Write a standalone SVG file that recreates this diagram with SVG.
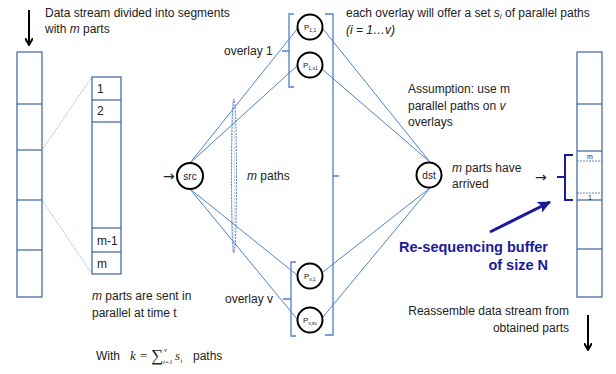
<svg xmlns="http://www.w3.org/2000/svg" width="616" height="374" viewBox="0 0 616 374">
<defs>
<marker id="blk" markerWidth="8" markerHeight="8" refX="6" refY="4" orient="auto" markerUnits="userSpaceOnUse"><path d="M0,0 L7,4 L0,8" fill="none" stroke="#000" stroke-width="2"/></marker>
<marker id="navy" markerWidth="14" markerHeight="12" refX="12" refY="6" orient="auto" markerUnits="userSpaceOnUse"><path d="M0,0 L13,6 L0,12 L3,6 Z" fill="#1a1a9a"/></marker>
<style>
text{font-family:"Liberation Sans",Arial,sans-serif;font-size:12px;fill:#222}
.it{font-style:italic}
.col{fill:#fff;stroke:#4a6ca5;stroke-width:1.3}
.seg{stroke:#4a6ca5;stroke-width:1.3}
.ln{stroke:#4f81c9;stroke-width:1;fill:none}
.br{stroke:#4f81c9;stroke-width:1.3;fill:none}
.nd{fill:#fff;stroke:#000;stroke-width:2}
.pl{font-size:8px}
.ps{font-size:5px}
.nl{font-size:10px}
.tiny{font-size:7px}
.arr{font-family:"DejaVu Sans",sans-serif;font-size:14px}
.nv{fill:#1a1a9a;font-weight:bold;font-size:14.5px}
.mi{font-family:"Liberation Serif","Times New Roman",serif;font-style:italic;font-size:13px}
.ms{font-family:"Liberation Serif","Times New Roman",serif;font-size:6.5px}
.msi{font-family:"Liberation Serif","Times New Roman",serif;font-style:italic;font-size:6.5px}
.sig{font-family:"Liberation Serif","Times New Roman",serif;font-size:17px}
.eq{font-family:"Liberation Serif","Times New Roman",serif;font-size:13px}
</style>
</defs>

<!-- top texts -->
<text x="45" y="17">Data stream divided into segments</text>
<text x="45" y="33">with <tspan class="it">m</tspan> parts</text>
<line x1="29" y1="10" x2="29" y2="44" stroke="#000" stroke-width="2" marker-end="url(#blk)"/>

<!-- left column -->
<g id="leftstream">
<rect class="col" x="17" y="52" width="25" height="245"/>
<line class="seg" x1="17" y1="104" x2="42" y2="104"/>
<line class="seg" x1="17" y1="150" x2="42" y2="150"/>
<line class="seg" x1="17" y1="200" x2="42" y2="200"/>
<line class="seg" x1="17" y1="250" x2="42" y2="250"/>
</g>

<!-- segment zoom column -->
<g id="segment">
<rect class="col" x="92" y="77" width="29" height="197"/>
<line class="seg" x1="92" y1="100" x2="121" y2="100"/>
<line class="seg" x1="92" y1="122" x2="121" y2="122"/>
<line class="seg" x1="92" y1="228" x2="121" y2="228"/>
<line class="seg" x1="92" y1="252" x2="121" y2="252"/>
<text x="97" y="93">1</text>
<text x="97" y="115">2</text>
<text x="97" y="245">m-1</text>
<text x="97" y="268">m</text>
</g>

<g id="connectors">
<line x1="42" y1="150" x2="92" y2="77" stroke="#7fa3d6" stroke-width="0.8" stroke-dasharray="1.5,1"/>
<line x1="42" y1="200" x2="92" y2="274" stroke="#7fa3d6" stroke-width="0.8" stroke-dasharray="1.5,1"/>
<line class="ln" x1="190" y1="163" x2="298" y2="28"/>
<line class="ln" x1="190" y1="163" x2="298" y2="65"/>
<line class="ln" x1="190" y1="189" x2="297" y2="275"/>
<line class="ln" x1="190" y1="189" x2="297" y2="319"/>
<line class="ln" x1="323" y1="29" x2="430" y2="162"/>
<line class="ln" x1="322" y1="69" x2="430" y2="162"/>
<line class="ln" x1="323" y1="272" x2="430" y2="188"/>
<line class="ln" x1="323" y1="317" x2="430" y2="188"/>
<ellipse cx="234" cy="176" rx="2.5" ry="77" fill="none" stroke="#2b4f9a" stroke-width="0.8" stroke-dasharray="2,1.2"/>
<ellipse cx="233" cy="176" rx="1.5" ry="76" fill="none" stroke="#8aa8d8" stroke-width="0.6" stroke-dasharray="2,1.2"/>
</g>

<!-- brackets -->
<path class="br" d="M294,14 H289 V51 H282 M289,51 V87 H294"/>
<path class="br" d="M296,262 H291 V299 H283 M291,299 V336 H296"/>
<path class="br" d="M325,14 H333 V335 H325 M333,176 H339"/>

<text x="224" y="55">overlay 1</text>
<text x="225" y="303">overlay v</text>
<text x="247" y="180"><tspan class="it">m</tspan> paths</text>
<text x="163" y="181" class="arr">→</text>

<g id="src"><circle class="nd" cx="190" cy="176" r="13"/><text x="190" y="180" text-anchor="middle" class="nl">src</text></g>
<g id="p11"><circle class="nd" cx="310" cy="27" r="12.5"/><text x="304" y="30" class="pl">P<tspan class="ps" dy="1.5">1,1</tspan></text></g>
<g id="p1s1"><circle class="nd" cx="310" cy="65" r="12.5"/><text x="303" y="68" class="pl">P<tspan class="ps" dy="1.5">1,s1</tspan></text></g>
<g id="pv1"><circle class="nd" cx="310" cy="276" r="12.5"/><text x="304" y="279" class="pl">P<tspan class="ps" dy="1.5">v,1</tspan></text></g>
<g id="pvsv"><circle class="nd" cx="310" cy="320" r="12.5"/><text x="303" y="323" class="pl">P<tspan class="ps" dy="1.5">v,sv</tspan></text></g>
<g id="dst"><circle class="nd" cx="429" cy="175" r="12.5"/><text x="429" y="179" text-anchor="middle" class="nl">dst</text></g>

<text x="346" y="17">each overlay will offer a set <tspan class="it">s</tspan><tspan class="it" style="font-size:8px" dy="2">i</tspan><tspan dy="-2"> of parallel paths</tspan></text>
<text x="346" y="34" class="it">(i = 1…v)</text>
<text x="408" y="93">Assumption: use m</text>
<text x="408" y="110">parallel paths on <tspan class="it">v</tspan></text>
<text x="408" y="126">overlays</text>

<text x="452" y="172"><tspan class="it">m</tspan> parts have</text>
<text x="452" y="188">arrived</text>
<text x="535" y="182" class="arr">→</text>

<!-- right column -->
<g id="rightstream">
<rect class="col" x="577" y="52" width="25" height="245"/>
<line class="seg" x1="577" y1="104" x2="602" y2="104"/>
<line class="seg" x1="577" y1="151" x2="602" y2="151"/>
<line class="seg" x1="577" y1="200" x2="602" y2="200"/>
<line class="seg" x1="577" y1="249" x2="602" y2="249"/>
<line x1="577" y1="161" x2="602" y2="161" stroke="#4a6ca5" stroke-width="0.8" stroke-dasharray="2,1"/>
<line x1="577" y1="193" x2="602" y2="193" stroke="#4a6ca5" stroke-width="0.8" stroke-dasharray="2,1"/>
<text x="590" y="158.5" text-anchor="middle" class="tiny">m</text>
<text x="590" y="199.5" text-anchor="middle" class="tiny">1</text>
</g>

<path d="M573,155 H565 V177 H557 M565,177 V200 H573" fill="none" stroke="#1a1a9a" stroke-width="2"/>
<line x1="490" y1="232" x2="550" y2="202" stroke="#1a1a9a" stroke-width="3" marker-end="url(#navy)"/>
<text class="nv" x="548" y="252" text-anchor="end">Re-sequencing buffer</text>
<text class="nv" x="548" y="270" text-anchor="end">of size N</text>

<text x="92" y="300"><tspan class="it">m</tspan> parts are sent in</text>
<text x="92" y="317">parallel at time t</text>

<text x="569" y="315" text-anchor="end">Reassemble data stream from</text>
<text x="569" y="332" text-anchor="end">obtained parts</text>
<line x1="588" y1="315" x2="588" y2="349" stroke="#000" stroke-width="2" marker-end="url(#blk)"/>

<text x="96" y="360">With</text>
<text x="130" y="360" class="mi">k</text>
<text x="140" y="360" class="eq">=</text>
<text x="151" y="361" class="sig">∑</text>
<text x="163" y="364" class="msi">i<tspan class="ms">=1</tspan></text>
<text x="164" y="352" class="msi">v</text>
<text x="175" y="360" class="mi">s</text>
<text x="180.5" y="363" class="msi">i</text>
<text x="193" y="360">paths</text>
</svg>
